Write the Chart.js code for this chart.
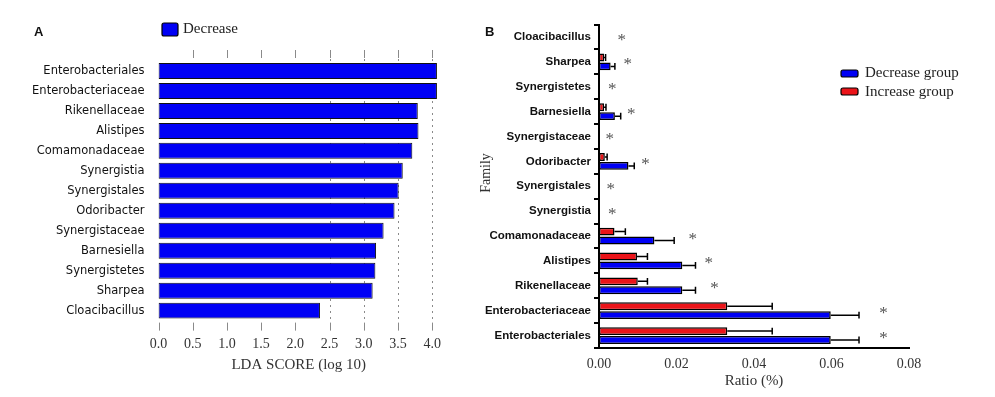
<!DOCTYPE html>
<html>
<head>
<meta charset="utf-8">
<script src="https://cdn.jsdelivr.net/npm/chart.js@4.4.0/dist/chart.umd.min.js"></script>
<style>
  body { margin: 0; background: #fff; }
  #wrap { position: relative; width: 995px; height: 397px; }
  canvas { position: absolute; top: 0; }
</style>
</head>
<body>
<div id="wrap">
  <canvas id="chart-lda" width="480" height="397" style="left:0"></canvas>
  <canvas id="chart-ratio" width="515" height="397" style="left:480px"></canvas>
</div>
<script>
// panel A - LDA scores
const ldaTaxa = ["Enterobacteriales", "Enterobacteriaceae", "Rikenellaceae", "Alistipes", "Comamonadaceae",
  "Synergistia", "Synergistales", "Odoribacter", "Synergistaceae", "Barnesiella", "Synergistetes", "Sharpea", "Cloacibacillus"];
const ldaScore = [4.07, 4.07, 3.79, 3.80, 3.71, 3.57, 3.51, 3.45, 3.29, 3.18, 3.17, 3.13, 2.36];
const ldaTicks = [0, 0.5, 1, 1.5, 2, 2.5, 3, 3.5, 4];

// panel B - relative abundance
const ratioTaxa = ["Cloacibacillus", "Sharpea", "Synergistetes", "Barnesiella", "Synergistaceae", "Odoribacter",
  "Synergistales", "Synergistia", "Comamonadaceae", "Alistipes", "Rikenellaceae", "Enterobacteriaceae", "Enterobacteriales"];
const decreaseMean = [0.0002, 0.0030, 0.0002, 0.0041, 0.0002, 0.0076, 0.0002, 0.0002, 0.0143, 0.0215, 0.0215, 0.0598, 0.0598];
const decreaseErr  = [0, 0.0011, 0, 0.0015, 0, 0.0015, 0, 0, 0.0051, 0.0034, 0.0034, 0.0073, 0.0073];
const increaseMean = [0.0001, 0.0013, 0.0001, 0.0013, 0.0001, 0.0015, 0.0001, 0.0001, 0.0040, 0.0098, 0.0100, 0.0331, 0.0331];
const increaseErr  = [0, 0.0004, 0, 0.0005, 0, 0.0006, 0, 0, 0.0028, 0.0027, 0.0025, 0.0116, 0.0116];
const starAt = [0.0059, 0.0074, 0.0034, 0.0083, 0.0028, 0.0120, 0.0030, 0.0034, 0.0242, 0.0283, 0.0298, 0.0734, 0.0734];
const ratioTicks = [0, 0.02, 0.04, 0.06, 0.08];

const BLUE = "rgb(0,0,245)";
const RED = "rgb(235,20,25)";
const SERIF = "'Liberation Serif', 'Times New Roman', serif";

function legendBox(ctx, x, y, w, h, color) {
  ctx.fillStyle = color;
  ctx.strokeStyle = "#000";
  ctx.lineWidth = 1.2;
  ctx.beginPath();
  ctx.roundRect(x, y, w, h, 2);
  ctx.fill();
  ctx.stroke();
}

// dotted grid + legend + panel letter for A
const ldaDecor = {
  id: "ldaDecor",
  beforeDatasetsDraw(chart) {
    const ctx = chart.ctx, x = chart.scales.x, area = chart.chartArea;
    ctx.save();
    ctx.strokeStyle = "#8a8a8a";
    ctx.lineWidth = 1;
    ldaTicks.forEach(v => {
      const px = Math.round(x.getPixelForValue(v)) + 0.5;
      ctx.setLineDash([]);
      ctx.beginPath();
      if (v > 0) { ctx.moveTo(px, area.top - 11); ctx.lineTo(px, area.top - 3); }
      ctx.moveTo(px, area.bottom + 2); ctx.lineTo(px, area.bottom + 10);
      ctx.stroke();
      if (v >= 2.5) {
        ctx.setLineDash([2, 4]);
        ctx.beginPath();
        ctx.moveTo(px, area.top - 2); ctx.lineTo(px, area.bottom + 2);
        ctx.stroke();
      }
    });
    ctx.restore();
  },
  afterDraw(chart) {
    const ctx = chart.ctx;
    ctx.save();
    ctx.fillStyle = "#111";
    ctx.font = "bold 13px 'Liberation Sans', Arial, sans-serif";
    ctx.textBaseline = "middle";
    ctx.fillText("A", 34, 32);
    legendBox(ctx, 162, 23, 16, 13, BLUE);
    ctx.fillStyle = "#222";
    ctx.font = "15px " + SERIF;
    ctx.fillText("Decrease", 183, 29);
    ctx.restore();
  }
};

// error bars, stars, legend and labels for B
const ratioDecor = {
  id: "ratioDecor",
  afterDatasetsDraw(chart) {
    const ctx = chart.ctx, x = chart.scales.x, y = chart.scales.y;
    ctx.save();
    ctx.strokeStyle = "#000";
    ctx.lineWidth = 1.5;
    chart.data.datasets.forEach((ds, di) => {
      chart.getDatasetMeta(di).data.forEach((bar, i) => {
        const err = ds.errors[i];
        if (!err) return;
        const x0 = x.getPixelForValue(ds.data[i]);
        const x1 = x.getPixelForValue(ds.data[i] + err);
        const h = bar.height / 2 - 0.5;
        ctx.beginPath();
        ctx.moveTo(x0, bar.y); ctx.lineTo(x1, bar.y);
        ctx.moveTo(x1, bar.y - h); ctx.lineTo(x1, bar.y + h);
        ctx.stroke();
      });
    });
    ctx.fillStyle = "#555";
    ctx.font = "17px " + SERIF;
    ctx.textAlign = "center";
    ctx.textBaseline = "middle";
    starAt.forEach((v, i) => {
      ctx.fillText("*", x.getPixelForValue(v), y.getPixelForValue(i) + 3);
    });
    ctx.restore();
  },
  afterDraw(chart) {
    const ctx = chart.ctx;
    ctx.save();
    ctx.fillStyle = "#111";
    ctx.font = "bold 13px 'Liberation Sans', Arial, sans-serif";
    ctx.textBaseline = "middle";
    ctx.fillText("B", 5, 32);
    legendBox(ctx, 361, 70, 17, 7, BLUE);
    legendBox(ctx, 361, 88, 17, 7, RED);
    ctx.fillStyle = "#222";
    ctx.font = "15px " + SERIF;
    ctx.fillText("Decrease group", 385, 73);
    ctx.fillText("Increase group", 385, 92);
    ctx.translate(6, 173);
    ctx.rotate(-Math.PI / 2);
    ctx.textAlign = "center";
    ctx.font = "14px " + SERIF;
    ctx.fillStyle = "#333";
    ctx.fillText("Family", 0, 0);
    ctx.restore();
  }
};

new Chart(document.getElementById("chart-lda").getContext("2d"), {
  type: "bar",
  data: {
    labels: ldaTaxa,
    datasets: [{
      label: "Decrease",
      data: ldaScore,
      backgroundColor: BLUE,
      borderColor: "#111",
      borderWidth: 1,
      borderSkipped: false,
      barPercentage: 0.8,
      categoryPercentage: 1
    }]
  },
  options: {
    indexAxis: "y",
    responsive: false,
    animation: false,
    layout: { padding: { top: 61, right: 41, bottom: 0, left: 0 } },
    plugins: { legend: { display: false }, tooltip: { enabled: false } },
    scales: {
      x: {
        min: 0,
        max: 4.1,
        afterBuildTicks: s => { s.ticks = ldaTicks.map(v => ({ value: v })); },
        afterFit: s => { s.height = 76.4; },
        grid: { display: false, drawTicks: false },
        border: { display: false },
        ticks: {
          padding: 15,
          color: "#333",
          font: { size: 14, family: SERIF },
          callback: v => Number(v).toFixed(1)
        },
        title: {
          display: true,
          text: "LDA SCORE (log 10)",
          color: "#333",
          font: { size: 15, family: SERIF },
          padding: { top: 0, bottom: 23 }
        }
      },
      y: {
        afterFit: s => { s.width = 158.5; },
        grid: { display: false, drawTicks: false },
        border: { display: false },
        ticks: {
          padding: 14,
          color: "#111",
          font: { size: 11.5, family: "'DejaVu Sans', sans-serif" }
        }
      }
    }
  },
  plugins: [ldaDecor]
});

new Chart(document.getElementById("chart-ratio").getContext("2d"), {
  type: "bar",
  data: {
    labels: ratioTaxa,
    datasets: [{
      label: "Increase group",
      data: increaseMean,
      errors: increaseErr,
      backgroundColor: RED,
      borderColor: "#000",
      borderWidth: 1.5,
      borderSkipped: false
    }, {
      label: "Decrease group",
      data: decreaseMean,
      errors: decreaseErr,
      backgroundColor: BLUE,
      borderColor: "#000",
      borderWidth: 1.5,
      borderSkipped: false
    }]
  },
  options: {
    indexAxis: "y",
    responsive: false,
    animation: false,
    categoryPercentage: 0.72,
    barPercentage: 0.88,
    layout: { padding: { top: 24.6, right: 86, bottom: 0, left: 0 } },
    plugins: { legend: { display: false }, tooltip: { enabled: false } },
    scales: {
      x: {
        min: 0,
        max: 0.08,
        afterBuildTicks: s => { s.ticks = ratioTicks.map(v => ({ value: v })); },
        afterFit: s => { s.height = 49; },
        grid: { display: false, drawTicks: false },
        border: { display: true, color: "#000", width: 2 },
        ticks: {
          padding: 8,
          color: "#333",
          font: { size: 14, family: SERIF },
          callback: v => Number(v).toFixed(2)
        },
        title: {
          display: true,
          text: "Ratio (%)",
          color: "#333",
          font: { size: 15, family: SERIF },
          padding: { top: 0, bottom: 7 }
        }
      },
      y: {
        afterFit: s => { s.width = 119; },
        grid: { drawOnChartArea: false, drawTicks: true, tickLength: 5, color: "#000", lineWidth: 2 },
        border: { display: true, color: "#000", width: 2 },
        ticks: {
          padding: 3,
          color: "#111",
          font: { size: 11.5, weight: "bold", family: "'Liberation Sans', Arial, sans-serif" }
        }
      }
    }
  },
  plugins: [ratioDecor]
});
</script>
</body>
</html>
